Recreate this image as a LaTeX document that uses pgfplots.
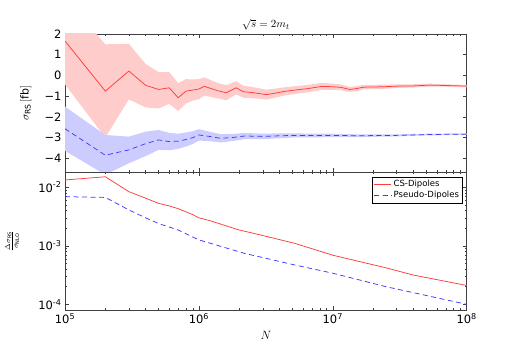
\documentclass[border=0pt]{standalone}
\usepackage{pgfplots}
\pgfplotsset{compat=1.18}
\usepackage{fontspec}
\setmainfont{DejaVu Sans}

\definecolor{lred}{RGB}{255,60,60}
\definecolor{lblue}{RGB}{60,60,255}
\definecolor{fred}{RGB}{255,204,204}
\definecolor{fblue}{RGB}{204,204,255}

\begin{document}
\begin{tikzpicture}
\useasboundingbox (0,0) rectangle (519pt,345pt);

\begin{axis}[at={(65pt,173pt)}, anchor=south west,
  scale only axis, width=401.7pt, height=138pt,
  xmode=log, xmin=1e5, xmax=1e8,
  tick align=inside, tick pos=both,
  major tick length=4pt, minor tick length=2pt,
  axis line style={black!75, line width=0.9pt},
  every tick/.style={black!75, line width=0.5pt},
  ticklabel style={font=\fontsize{11.5}{12}\selectfont},
  ymin=-4.67, ymax=2,
  ytick={-4,-3,-2,-1,0,1,2},
  yticklabels={−4,−3,−2,−1,0,1,2},
  xticklabels={},
  title={$\sqrt{s}=2m_t$},
  title style={font=\fontsize{11}{12}\selectfont, yshift=-6pt},
  ylabel={$\sigma_{\rm RS}\,[\mathrm{fb}]$},
  ylabel style={font=\fontsize{11}{12}\selectfont, at={(axis description cs:-0.075,0.5)}},
]
% CS-Dipoles error band: upper edge, then lower edge backwards
\addplot[fill=fred, draw=none, forget plot] coordinates {
  (1e5,3.76) (2e5,1.5) (3e5,1.53) (4e5,0.55) (5e5,0.16) (6e5,0.16) (7e5,-0.38)
  (8e5,-0.18) (9e5,-0.2) (1e6,-0.18) (1.1e6,-0.1) (1.25e6,-0.25) (1.4e6,-0.38)
  (1.6e6,-0.48) (1.9e6,-0.28) (2.15e6,-0.5) (2.5e6,-0.56) (3.2e6,-0.69)
  (3.7e6,-0.64) (4.3e6,-0.58) (5.2e6,-0.52) (6.5e6,-0.46) (8.3e6,-0.36)
  (1e7,-0.4) (1.15e7,-0.44) (1.34e7,-0.56) (1.5e7,-0.52) (1.7e7,-0.46)
  (2.4e7,-0.45) (3e7,-0.43) (4e7,-0.43) (5.3e7,-0.40) (7e7,-0.43) (1e8,-0.46)
  (1e8,-0.58) (7e7,-0.55) (5.3e7,-0.54) (4e7,-0.59) (3e7,-0.61) (2.4e7,-0.65)
  (1.7e7,-0.68) (1.5e7,-0.76) (1.34e7,-0.8) (1.15e7,-0.72) (1e7,-0.7)
  (8.3e6,-0.7) (6.5e6,-0.82) (5.2e6,-0.9) (4.3e6,-0.98) (3.7e6,-1.08)
  (3.2e6,-1.17) (2.5e6,-1.1) (2.15e6,-1.08) (1.9e6,-0.92) (1.6e6,-1.2)
  (1.4e6,-1.12) (1.25e6,-1.05) (1.1e6,-0.98) (1e6,-1.15) (9e5,-1.22)
  (8e5,-1.36) (7e5,-1.72) (6e5,-1.38) (5e5,-1.6) (4e5,-1.55) (3e5,-1.16)
  (2e5,-3.0) (1e5,-0.44)
} -- cycle;
% Pseudo-Dipoles error band
\addplot[fill=fblue, draw=none, forget plot] coordinates {
  (1e5,-1.51) (2e5,-2.88) (3e5,-2.96) (4e5,-2.72) (5e5,-2.64) (6e5,-2.78)
  (7e5,-2.82) (8e5,-2.76) (9e5,-2.7) (1e6,-2.6) (1.2e6,-2.72) (1.45e6,-2.84)
  (1.8e6,-2.83) (2.2e6,-2.78) (3e6,-2.82) (4e6,-2.8) (5.2e6,-2.8) (7e6,-2.82)
  (1e7,-2.82) (1.5e7,-2.85) (2e7,-2.85) (3e7,-2.85) (5e7,-2.82) (7e7,-2.81)
  (1e8,-2.80)
  (1e8,-2.88) (7e7,-2.89) (5e7,-2.9) (3e7,-2.95) (2e7,-2.97) (1.5e7,-2.99)
  (1e7,-2.98) (7e6,-3.0) (5.2e6,-3.0) (4e6,-3.04) (3e6,-3.08) (2.2e6,-3.08)
  (1.8e6,-3.17) (1.45e6,-3.24) (1.2e6,-3.18) (1e6,-3.15) (9e5,-3.32)
  (8e5,-3.44) (7e5,-3.55) (6e5,-3.62) (5e5,-3.6) (4e5,-3.9) (3e5,-4.25)
  (2e5,-4.8) (1e5,-3.65)
} -- cycle;
\addplot[lred, line width=0.75pt, mark=none] coordinates {
  (1e5,1.66) (2e5,-0.76) (3e5,0.21) (4e5,-0.48) (5e5,-0.68) (6e5,-0.60)
  (7e5,-1.08) (8e5,-0.76) (9e5,-0.71) (1e6,-0.66) (1.1e6,-0.53) (1.25e6,-0.65)
  (1.4e6,-0.75) (1.6e6,-0.84) (1.9e6,-0.6) (2.15e6,-0.79) (2.5e6,-0.83)
  (3.2e6,-0.93) (3.7e6,-0.86) (4.3e6,-0.78) (5.2e6,-0.71) (6.5e6,-0.64)
  (8.3e6,-0.53) (1e7,-0.55) (1.15e7,-0.58) (1.34e7,-0.68) (1.5e7,-0.64)
  (1.7e7,-0.57) (2.4e7,-0.55) (3e7,-0.52) (4e7,-0.51) (5.3e7,-0.47)
  (7e7,-0.49) (1e8,-0.52)
};
\addplot[lblue, line width=0.75pt, dash pattern=on 5pt off 3.5pt, mark=none] coordinates {
  (1e5,-2.58) (2e5,-3.86) (3e5,-3.6) (4e5,-3.3) (5e5,-3.12) (6e5,-3.2)
  (7e5,-3.18) (8e5,-3.1) (9e5,-3.01) (1e6,-2.88) (1.2e6,-2.95) (1.45e6,-3.04)
  (1.8e6,-3.0) (2.2e6,-2.93) (3e6,-2.95) (4e6,-2.92) (5.2e6,-2.9) (7e6,-2.91)
  (1e7,-2.9) (1.5e7,-2.92) (2e7,-2.91) (3e7,-2.9) (5e7,-2.86) (7e7,-2.85)
  (1e8,-2.84)
};
\end{axis}

\begin{axis}[at={(65pt,35pt)}, anchor=south west,
  scale only axis, width=401.7pt, height=138pt,
  xmode=log, xmin=1e5, xmax=1e8,
  tick align=inside, tick pos=both,
  major tick length=4pt, minor tick length=2pt,
  axis line style={black!75, line width=0.9pt},
  every tick/.style={black!75, line width=0.5pt},
  ticklabel style={font=\fontsize{11.5}{12}\selectfont},
  ymode=log, ymin=8.0e-5, ymax=1.82e-2,
  ytick={1e-4,1e-3,1e-2},
  yticklabels={10\textsuperscript{-4},10\textsuperscript{-3},10\textsuperscript{-2}},
  xtick={1e5,1e6,1e7,1e8},
  xticklabels={10\textsuperscript{5},10\textsuperscript{6},10\textsuperscript{7},10\textsuperscript{8}},
  xlabel={$N$},
  xlabel style={font=\fontsize{11.5}{12}\selectfont},
  ylabel={$\frac{\Delta\sigma_{\rm RS}}{\sigma_{\rm NLO}}$},
  ylabel style={font=\fontsize{10}{11}\selectfont, at={(axis description cs:-0.105,0.5)}},
  legend style={at={(0.99,0.965)}, anchor=north east, draw=black,
    font=\fontsize{8.5}{10}\selectfont, cells={anchor=west},
    inner sep=1.5pt, row sep=-1pt},
]
\addplot[lred, line width=0.75pt, mark=none] coordinates {
  (1e5,0.0133) (2e5,0.0151) (3e5,0.0084) (4e5,0.0065) (5e5,0.0053)
  (6e5,0.0048) (7e5,0.0043) (8e5,0.0038) (9e5,0.0034) (1e6,0.0030)
  (1.2e6,0.0027) (2e6,0.00186) (2.6e6,0.00162) (5.2e6,0.0011)
  (1e7,0.00069) (2.5e7,0.00042) (4e7,0.000316) (1e8,0.00021)
};
\addlegendentry{CS-Dipoles}
\addplot[lblue, line width=0.75pt, dash pattern=on 5pt off 3.5pt, mark=none] coordinates {
  (1e5,0.0069) (2e5,0.0067) (3e5,0.0041) (4e5,0.0030) (5e5,0.0024)
  (7e5,0.00186) (1e6,0.00126) (2.2e6,0.00074) (5.2e6,0.00047)
  (1e7,0.00034) (2.5e7,0.0002) (1e8,0.0001)
};
\addlegendentry{Pseudo-Dipoles}
\end{axis}
\end{tikzpicture}
\end{document}
